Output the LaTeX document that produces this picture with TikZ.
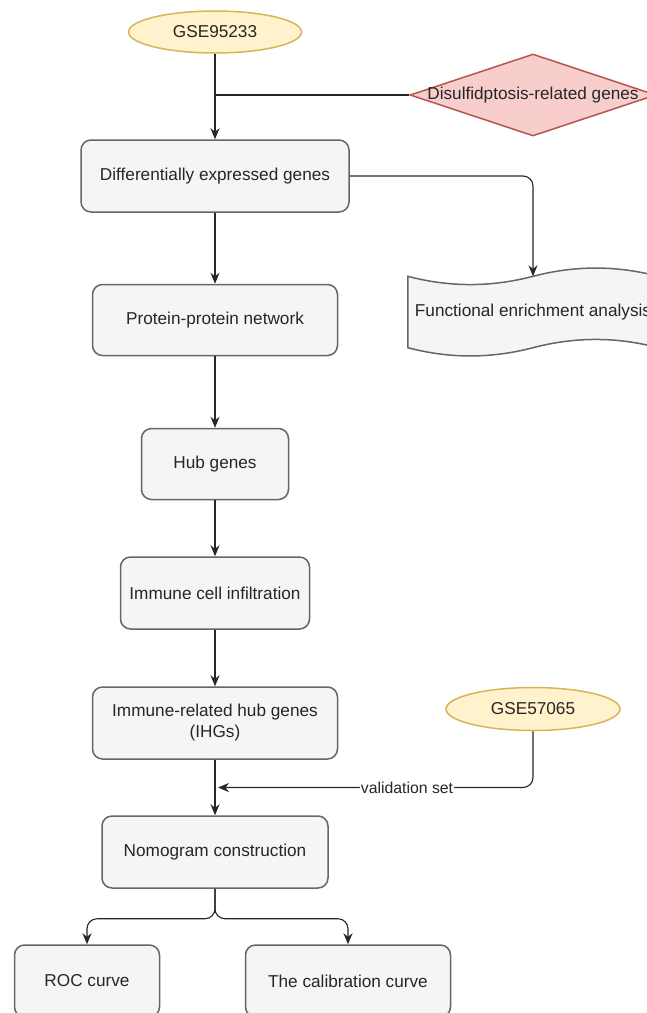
\documentclass[tikz,border=0pt]{standalone}
\usepackage{fontspec}
\setmainfont{Liberation Sans}
\usetikzlibrary{shapes.geometric,arrows.meta,calc}

\definecolor{boxfill}{HTML}{F5F5F5}
\definecolor{boxline}{HTML}{666666}
\definecolor{txt}{HTML}{262626}
\definecolor{gsefill}{HTML}{FFF2CC}
\definecolor{gseline}{HTML}{D6B656}
\definecolor{disfill}{HTML}{F8CECC}
\definecolor{disline}{HTML}{B85450}

\begin{document}
\begin{tikzpicture}[x=1pt, y=-1pt,
  every node/.style={font=\fontsize{17.2}{21}\selectfont, text=txt},
  box/.style={draw=boxline, fill=boxfill, line width=1.5pt, rounded corners=10pt, inner sep=0pt, align=center},
  dataset/.style={ellipse, draw=gseline, fill=gsefill, line width=1.5pt, inner sep=0pt},
  flow/.style={-{Stealth[length=11pt,width=9pt]}, line width=1.1pt, black!85}]
  % page
  \clip (0,0) rectangle (647,1013);

  % data sets
  \node[dataset, minimum width=173, minimum height=42] (gse1) at (215,32) {GSE95233};
  \node[dataset, minimum width=174, minimum height=43] (gse2) at (533,709) {GSE57065};

  % gene set
  \node[diamond, draw=disline, fill=disfill, line width=1.5pt, inner sep=0pt,
        minimum width=246, minimum height=82] (dis) at (533,95) {\makebox[0pt]{Disulfidptosis-related genes}};

  % main steps
  \node[box, minimum width=268, minimum height=72] (deg) at (215,176) {Differentially expressed genes};
  \node[box, minimum width=245, minimum height=71] (ppi) at (215,320) {Protein-protein network};
  \node[box, minimum width=147, minimum height=71] (hub) at (215,464) {Hub genes};
  \node[box, minimum width=189, minimum height=72] (ici) at (215,593) {Immune cell infiltration};
  \node[box, minimum width=245, minimum height=72] (ihg) at (215,723) {Immune-related hub genes\\(IHGs)};
  \node[box, minimum width=226, minimum height=72] (nomo) at (215,852) {Nomogram construction};
  \node[box, minimum width=145, minimum height=72] (roc) at (87,981) {ROC curve};
  \node[box, minimum width=205, minimum height=72] (calib) at (348,981) {The calibration curve};

  % enrichment (tape)
  \node[minimum width=250, minimum height=71, inner sep=0pt] (fea) at (533,312) {};
  \draw[draw=boxline, fill=boxfill, line width=1.5pt]
    (fea.north west) .. controls ([shift={(42,11)}]fea.north west) and ([shift={(83,11)}]fea.north west) .. (fea.north)
    .. controls ([shift={(-83,-11)}]fea.north east) and ([shift={(-42,-11)}]fea.north east) .. (fea.north east)
    -- (fea.south east)
    .. controls ([shift={(-42,-11)}]fea.south east) and ([shift={(-83,-11)}]fea.south east) .. (fea.south)
    .. controls ([shift={(83,11)}]fea.south west) and ([shift={(42,11)}]fea.south west) .. (fea.south west)
    -- cycle;
  \node (featext) at (fea.center) {Functional enrichment analysis};

  % connectors
  \draw[flow] (gse1) -- (deg);
  \draw[line width=1.1pt, black!85] (dis.west) -- (dis.west -| gse1.south);
  \draw[flow, rounded corners=10pt] (deg.east) -| (fea.north);
  \draw[flow] (deg) -- (ppi);
  \draw[flow] (ppi) -- (hub);
  \draw[flow] (hub) -- (ici);
  \draw[flow] (ici) -- (ihg);
  \draw[flow] (ihg) -- (nomo);

  % validation
  \coordinate (join) at ($(ihg.south)!0.5!(nomo.north)$);
  \draw[flow, rounded corners=10pt] (gse2.south) |- ([xshift=3pt]join)
    node[pos=0.7, fill=white, inner sep=1pt, font=\fontsize{15.8}{19}\selectfont] (vset) {validation set};

  % outputs
  \coordinate (split) at ($(nomo.south)+(0,30)$);
  \draw[flow, rounded corners=10pt] (nomo.south) -- (split) -| (roc.north);
  \draw[flow, rounded corners=10pt] (nomo.south) -- (split) -| (calib.north);

\end{tikzpicture}
\end{document}
